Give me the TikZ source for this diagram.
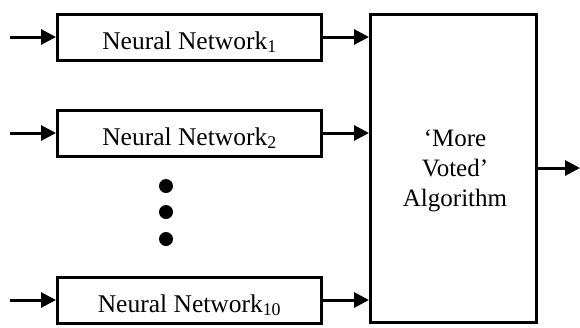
\documentclass[tikz,border=0pt]{standalone}
\usepackage{fontspec}
\setmainfont{Liberation Serif}
\usetikzlibrary{arrows.meta}
\begin{document}
\begin{tikzpicture}[x=1pt,y=-1pt,
  nnbox/.style={draw, line width=3pt, minimum width=264pt, minimum height=46pt, inner sep=0pt,
    text height=24pt, text depth=0pt, font=\fontsize{25.5}{29}\selectfont},
  bigbox/.style={draw, line width=3pt, minimum width=166pt, minimum height=308pt, inner sep=0pt},
  bigtext/.style={align=center, inner sep=0pt, font=\fontsize{25}{30}\selectfont},
  conn/.style={line width=3pt, -{Triangle[length=15pt,width=15pt]}},
  dot/.style={circle, fill=black, minimum size=14pt, inner sep=0pt}]
\useasboundingbox (0,0) rectangle (580,327);
\node[nnbox] (n1) at (189.5,37) {Neural Network\textsubscript{1}};
\node[nnbox] (n2) at (189.5,133) {Neural Network\textsubscript{2}};
\node[nnbox] (n10) at (189.5,300) {Neural Network\textsubscript{10}};
\node[bigbox] (alg) at (453.5,168) {};
\node[bigtext] (algtext) at (455,171) {‘More\\Voted’\\Algorithm};
\node[dot] (d1) at (166,186) {};
\node[dot] (d2) at (166,212) {};
\node[dot] (d3) at (166,239) {};
\coordinate (i1) at (10,37);
\coordinate (i2) at (10,133);
\coordinate (i10) at (10,300);
\coordinate (out) at (580,168);
\draw[conn] (i1) -- (n1.west);
\draw[conn] (i2) -- (n2.west);
\draw[conn] (i10) -- (n10.west);
\draw[conn] (n1.east) -- (n1.east -| alg.west);
\draw[conn] (n2.east) -- (n2.east -| alg.west);
\draw[conn] (n10.east) -- (n10.east -| alg.west);
\draw[conn] (alg.east) -- (out);
\end{tikzpicture}
\end{document}
